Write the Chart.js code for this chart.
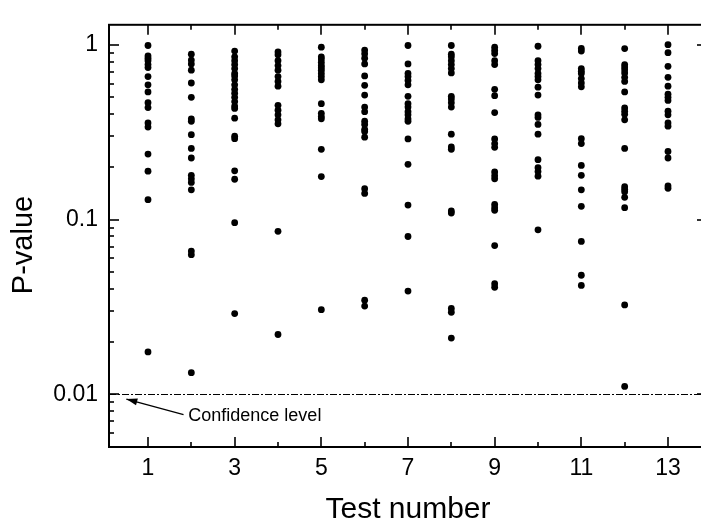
<!DOCTYPE html>
<html>
<head>
<meta charset="utf-8">
<script src="https://cdn.jsdelivr.net/npm/chart.js@4/dist/chart.umd.min.js"></script>
<style>
  html, body { margin: 0; padding: 0; background: #fff; overflow: hidden; }
  #wrap { width: 720px; height: 525px; }
</style>
</head>
<body>
<div id="wrap"><canvas id="chart" width="720" height="525"></canvas></div>
<script>
// P-values read per test number
const test1 = [0.99, 0.864, 0.838, 0.81, 0.77, 0.74, 0.657, 0.59, 0.537, 0.466, 0.437, 0.357, 0.338, 0.237, 0.189, 0.13, 0.0175];
const test2 = [0.882, 0.817, 0.777, 0.715, 0.604, 0.5, 0.377, 0.365, 0.306, 0.255, 0.225, 0.179, 0.171, 0.163, 0.148, 0.066, 0.063, 0.0133];
const test3 = [0.92, 0.853, 0.81, 0.77, 0.73, 0.685, 0.663, 0.63, 0.59, 0.556, 0.528, 0.5, 0.473, 0.446, 0.432, 0.38, 0.3, 0.29, 0.19, 0.17, 0.096, 0.029];
const test4 = [0.91, 0.875, 0.81, 0.76, 0.715, 0.657, 0.617, 0.579, 0.45, 0.422, 0.397, 0.372, 0.353, 0.0856, 0.022];
const test5 = [0.968, 0.853, 0.828, 0.794, 0.761, 0.739, 0.715, 0.685, 0.657, 0.63, 0.46, 0.405, 0.388, 0.377, 0.252, 0.176, 0.0305];
const test6 = [0.932, 0.889, 0.838, 0.777, 0.663, 0.586, 0.515, 0.44, 0.414, 0.365, 0.35, 0.328, 0.319, 0.296, 0.15, 0.141, 0.0346, 0.032];
const test7 = [0.99, 0.777, 0.685, 0.657, 0.625, 0.59, 0.507, 0.46, 0.44, 0.414, 0.397, 0.377, 0.365, 0.289, 0.207, 0.121, 0.08, 0.039];
const test8 = [0.99, 0.882, 0.853, 0.81, 0.77, 0.73, 0.69, 0.507, 0.49, 0.466, 0.44, 0.308, 0.26, 0.252, 0.112, 0.109, 0.031, 0.0295, 0.021];
const test9 = [0.968, 0.927, 0.89, 0.81, 0.77, 0.556, 0.511, 0.409, 0.289, 0.272, 0.259, 0.187, 0.178, 0.171, 0.122, 0.117, 0.113, 0.071, 0.043, 0.041];
const test10 = [0.98, 0.81, 0.77, 0.73, 0.685, 0.657, 0.63, 0.572, 0.515, 0.397, 0.384, 0.35, 0.308, 0.22, 0.198, 0.188, 0.177, 0.0873];
const test11 = [0.953, 0.92, 0.73, 0.706, 0.685, 0.64, 0.604, 0.574, 0.29, 0.272, 0.204, 0.179, 0.148, 0.119, 0.075, 0.048, 0.042];
const test12 = [0.951, 0.77, 0.745, 0.72, 0.69, 0.651, 0.617, 0.537, 0.435, 0.417, 0.4, 0.372, 0.255, 0.154, 0.149, 0.144, 0.134, 0.117, 0.0325, 0.0111];
const test13 = [1.0, 0.9, 0.752, 0.651, 0.579, 0.521, 0.5, 0.48, 0.417, 0.397, 0.357, 0.342, 0.245, 0.225, 0.156, 0.151];

const testNumbers = [1, 2, 3, 4, 5, 6, 7, 8, 9, 10, 11, 12, 13];
const xTickLabels = [1, 3, 5, 7, 9, 11, 13];
const yTickLabels = [0.01, 0.1, 1];
const confidenceLevel = 0.01;

const allTests = [test1, test2, test3, test4, test5, test6, test7, test8, test9, test10, test11, test12, test13];
const points = [];
testNumbers.forEach((n, i) => {
  allTests[i].forEach((p) => points.push({ x: n, y: p }));
});

const FONT = "'Liberation Sans', Arial, Helvetica, sans-serif";

// frame, inward ticks, confidence line, note and y title
const decorations = {
  id: "decorations",
  afterDraw(chart) {
    const { ctx, chartArea: a, scales } = chart;
    const x = scales.x, y = scales.y;
    ctx.save();
    ctx.strokeStyle = "#000";
    ctx.lineWidth = 2;
    ctx.strokeRect(a.left, a.top, a.right - a.left, a.bottom - a.top);

    const seg = (x1, y1, x2, y2) => {
      ctx.beginPath();
      ctx.moveTo(x1, y1);
      ctx.lineTo(x2, y2);
      ctx.stroke();
    };

    ctx.lineWidth = 1.6;
    for (let t = 1; t <= 13; t++) {
      const px = Math.round(x.getPixelForValue(t));
      const len = t % 2 ? 10 : 5;
      seg(px, a.bottom, px, a.bottom - len);
      seg(px, a.top, px, a.top + len);
    }
    for (let d = -3; d <= 0; d++) {
      for (let m = 1; m <= 9; m++) {
        const v = m * Math.pow(10, d);
        if (v < y.min || v > y.max) continue;
        const py = Math.round(y.getPixelForValue(v));
        const len = m === 1 ? 10 : 5;
        seg(a.left, py, a.left + len, py);
        seg(a.right, py, a.right - len, py);
      }
    }

    // dash-dot line at the confidence level
    const cy = Math.round(y.getPixelForValue(confidenceLevel)) + 0.5;
    ctx.lineWidth = 1;
    ctx.setLineDash([7, 2, 2, 2]);
    seg(a.left, cy, a.right, cy);
    ctx.setLineDash([]);

    // arrow and note
    const hx = x.getPixelForValue(0.5), hy = y.getPixelForValue(0.0094);
    const tx = x.getPixelForValue(1.82), ty = y.getPixelForValue(0.00765);
    ctx.lineWidth = 1.3;
    seg(tx, ty, hx, hy);
    const ang = Math.atan2(hy - ty, hx - tx);
    const L = 11, W = 3.5;
    ctx.beginPath();
    ctx.moveTo(hx, hy);
    ctx.lineTo(hx - L * Math.cos(ang) + W * Math.sin(ang), hy - L * Math.sin(ang) - W * Math.cos(ang));
    ctx.lineTo(hx - L * Math.cos(ang) - W * Math.sin(ang), hy - L * Math.sin(ang) + W * Math.cos(ang));
    ctx.closePath();
    ctx.fillStyle = "#000";
    ctx.fill();

    ctx.font = "18px " + FONT;
    ctx.textAlign = "left";
    ctx.textBaseline = "middle";
    ctx.fillText("Confidence level", x.getPixelForValue(1.93), y.getPixelForValue(0.0075));

    // y axis title
    ctx.translate(24, 245);
    ctx.rotate(-Math.PI / 2);
    ctx.textAlign = "center";
    ctx.font = "29px " + FONT;
    ctx.fillText("P-value", 0, 0);
    ctx.restore();
  },
};

new Chart(document.getElementById("chart"), {
  type: "scatter",
  data: {
    datasets: [
      {
        label: "P-value",
        data: points,
        backgroundColor: "#000",
        borderWidth: 0,
        pointRadius: 3.4,
        pointHoverRadius: 3.4,
      },
    ],
  },
  options: {
    responsive: false,
    animation: false,
    devicePixelRatio: 1,
    layout: { padding: { left: 0, top: 6, right: 13, bottom: 0 } },
    plugins: { legend: { display: false }, tooltip: { enabled: false } },
    scales: {
      x: {
        type: "linear",
        min: 0.1,
        max: 13.9,
        grid: { display: false, drawTicks: false },
        border: { display: false },
        afterFit: (s) => { s.height = 78; },
        afterBuildTicks: (s) => { s.ticks = testNumbers.map((v) => ({ value: v })); },
        ticks: {
          autoSkip: false,
          maxRotation: 0,
          padding: 8,
          color: "#000",
          font: { family: FONT, size: 23 },
          callback: (v) => (xTickLabels.includes(v) ? String(v) : ""),
        },
        title: {
          display: true,
          text: "Test number",
          color: "#000",
          font: { family: FONT, size: 30, lineHeight: 1 },
          padding: { top: 0, bottom: 0.5 },
        },
      },
      y: {
        type: "logarithmic",
        min: 0.005,
        max: 1.3,
        grid: { display: false, drawTicks: false },
        border: { display: false },
        afterFit: (s) => { s.width = 109; },
        ticks: {
          autoSkip: false,
          padding: 11,
          color: "#000",
          font: { family: FONT, size: 23 },
          callback: (v) => (yTickLabels.includes(v) ? String(v) : ""),
        },
      },
    },
  },
  plugins: [decorations],
});
</script>
</body>
</html>
